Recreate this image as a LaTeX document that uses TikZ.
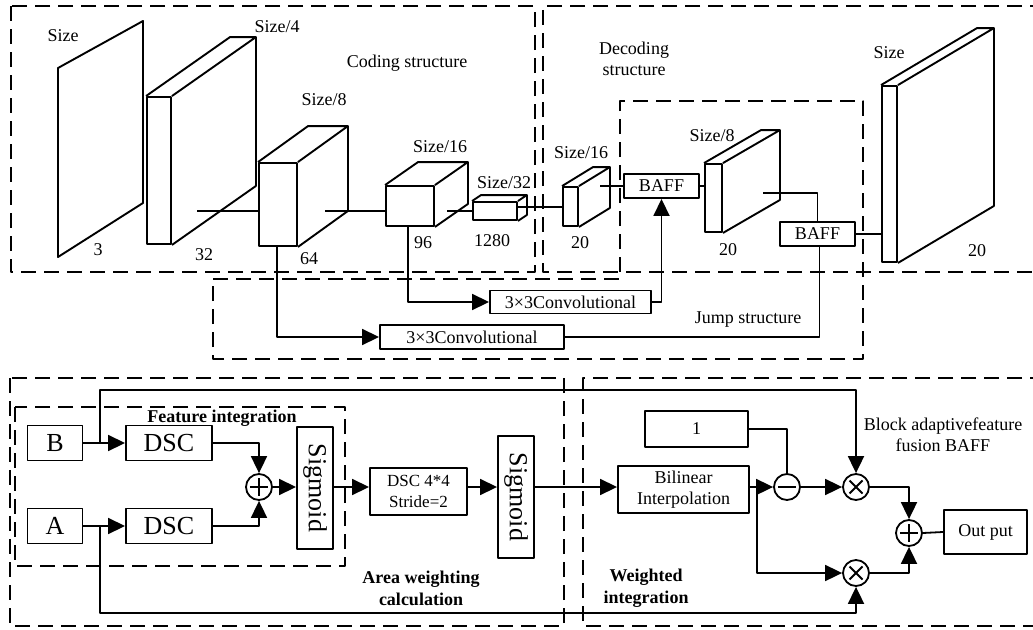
\documentclass[tikz,border=0pt]{standalone}
\usepackage{fontspec}
\setmainfont{Liberation Serif}
\usetikzlibrary{arrows.meta}
% depth faces of a feature-map block whose front face is node #1
\newcommand\slabdepth[3]{%
  \draw[face] (#1.north west) -- ++(#2,#3) -- ([shift={(#2,#3)}]#1.north east)
    -- ([shift={(#2,#3)}]#1.south east) -- (#1.south east)
    (#1.north east) -- ++(#2,#3);}
\begin{document}
\begin{tikzpicture}[x=1pt,y=-1pt,line width=1.8pt,line join=round,
  txt/.style={font=\fontsize{18}{21}\selectfont},
  box/.style={draw,line width=1.9pt,inner sep=0pt,align=center,txt},
  face/.style={draw,line width=1.9pt,inner sep=0pt},
  region/.style={draw,line width=1.9pt,dash pattern=on 15pt off 8pt},
  lab/.style={inner sep=0pt,align=center,txt},
  boldlab/.style={inner sep=0pt,align=center,font=\fontsize{18}{22}\bfseries\selectfont},
  bigtxt/.style={font=\fontsize{26}{28}\selectfont},
  arr/.style={-{Triangle[length=17pt,width=16pt]}},
  op/.style={draw,circle,line width=1.8pt,minimum size=26pt,inner sep=0pt},
  opplus/.style={op,path picture={\draw[line width=1.8pt]
      (path picture bounding box.center) ++(-9,0) -- ++(18,0)
      (path picture bounding box.center) ++(0,-9) -- ++(0,18);}},
  opminus/.style={op,path picture={\draw[line width=1.8pt]
      (path picture bounding box.center) ++(-9,0) -- ++(18,0);}},
  optimes/.style={op,path picture={\draw[line width=1.8pt]
      (path picture bounding box.center) ++(-6.5,-6.5) -- ++(13,13)
      (path picture bounding box.center) ++(-6.5,6.5) -- ++(13,-13);}},
]
\useasboundingbox (0,0) rectangle (1033,629);

% ---------------- encoder / decoder ----------------
\draw[region] (11,6) rectangle (535,272);
\draw[region] (1045,6) -- (543,6) -- (543,272) -- (1045,272);
\draw[region] (213,279) -- (620,279) -- (620,101) -- (863,101) -- (863,359) -- (213,359) -- cycle;

\node[lab] (tcode) at (407,63) {Coding structure};
\node[lab] (tdec) at (634,59) {Decoding\\structure};
\node[lab] (tjump) at (748,320) {Jump structure};

% input plane
\coordinate (s1a) at (58,68);
\coordinate (s1b) at (143,21);
\coordinate (s1c) at (143,203);
\coordinate (s1d) at (58,257);
\draw[face] (s1a) -- (s1b) -- (s1c) -- (s1d) -- cycle;
\node[lab] (l1) at (63,36) {Size};
\node[lab] (n1) at (98,250) {3};

% encoder blocks
\node[face,minimum width=24pt,minimum height=147pt] (s2) at (159,170.5) {};
\slabdepth{s2}{84}{-59}
\node[lab] (l2) at (277,27) {Size/4};
\node[lab] (n2) at (204,255) {32};

\node[face,minimum width=38pt,minimum height=83pt] (s3) at (278,204.5) {};
\slabdepth{s3}{50}{-36}
\node[lab] (l3) at (324,100) {Size/8};
\node[lab] (n3) at (309,259) {64};

\node[face,minimum width=48pt,minimum height=40pt] (s4) at (410,206) {};
\slabdepth{s4}{33}{-23}
\node[lab] (l4) at (440,147) {Size/16};
\node[lab] (n4) at (423,243) {96};

\node[face,minimum width=44pt,minimum height=18pt] (s5) at (495,211) {};
\slabdepth{s5}{9}{-6}
\node[lab] (l5) at (504,183) {Size/32};
\node[lab] (n5) at (492,241) {1280};

% decoder blocks
\node[face,minimum width=15pt,minimum height=39pt] (d1) at (570.5,206.5) {};
\slabdepth{d1}{31}{-19}
\node[lab] (l6) at (581,153) {Size/16};
\node[lab] (n6) at (580,243) {20};

\node[face,minimum width=17pt,minimum height=68pt] (d2) at (713.5,198) {};
\slabdepth{d2}{57}{-33}
\node[lab] (l7) at (712,136) {Size/8};
\node[lab] (n7) at (728,250) {20};

\node[face,minimum width=15pt,minimum height=176pt] (d3) at (889.5,174) {};
\slabdepth{d3}{96}{-57}
\node[lab] (l8) at (889,53) {Size};
\node[lab] (n8) at (977,251) {20};

\node[box,minimum width=75pt,minimum height=24pt] (b1) at (661.5,186) {BAFF};
\node[box,minimum width=75pt,minimum height=24pt] (b2) at (817.5,234) {BAFF};
\node[box,minimum width=161pt,minimum height=23pt] (c1) at (570.5,302) {3\texttimes3Convolutional};
\node[box,minimum width=184pt,minimum height=24pt] (c2) at (472,337) {3\texttimes3Convolutional};

% links between blocks
\coordinate (j2) at (197,211);
\coordinate (j3) at (325,211);
\coordinate (j4) at (447,211);
\coordinate (j5) at (517,207);
\coordinate (j6) at (600,186);
\coordinate (j7) at (763,193);
\draw (j2) -- (j2 -| s3.west);
\draw (j3) -- (j3 -| s4.west);
\draw (j4) -- (j4 -| s5.west);
\draw (j5) -- (j5 -| d1.west);
\draw (j6) -- (b1.west);
\draw (b1.east) -- (b1.east -| d2.west);
\draw (j7) -| (b2.north);
\draw (b2.east) -- (b2.east -| d3.west);

% skip connections
\draw[arr] ([xshift=-1pt]s3.south) |- (c2.west);
\draw[arr] ([xshift=-2pt]s4.south) |- (c1.west);
\draw[arr] (c1.east) -| (b1.south);
\draw (c2.east) -| ([xshift=2pt]b2.south);

% ---------------- BAFF module ----------------
\draw[region] (10,378) rectangle (564,626);
\draw[region] (1045,378) -- (583,378) -- (583,626) -- (1045,626);
\draw[region] (15,407) rectangle (345,566);

\node[boldlab] (tfeat) at (222,418) {Feature integration};
\node[boldlab] (tarea) at (421,588) {Area weighting\\calculation};
\node[boldlab] (twei) at (646,588) {Weighted\\integration};
\node[lab] (tbaff) at (943,435) {Block adaptivefeature\\fusion BAFF};

\node[box,bigtxt,minimum width=55pt,minimum height=35pt] (B) at (55,443) {B};
\node[box,bigtxt,minimum width=55pt,minimum height=35pt] (A) at (55,526) {A};
\node[box,bigtxt,minimum width=86pt,minimum height=35pt] (dscB) at (169,443) {DSC};
\node[box,bigtxt,minimum width=86pt,minimum height=35pt] (dscA) at (169,526) {DSC};
\node[opplus] (p1) at (259,487) {};
\node[box,minimum width=36pt,minimum height=122pt] (sg1) at (315,488) {};
\node[bigtxt,rotate=-90,inner sep=0pt] (sg1t) at (sg1) {Sigmoid};
\node[box,minimum width=97pt,minimum height=47pt,font=\fontsize{17}{21}\selectfont] (dsc44) at (418.5,491.5) {DSC 4*4\\Stride=2};
\node[box,minimum width=36pt,minimum height=122pt] (sg2) at (516,497) {};
\node[bigtxt,rotate=-90,inner sep=0pt] (sg2t) at (sg2) {Sigmoid};
\node[box,minimum width=103pt,minimum height=36pt] (one) at (696.5,429) {1};
\node[box,minimum width=131pt,minimum height=47pt] (bil) at (683.5,489.5) {Bilinear\\Interpolation};
\node[opminus] (m) at (787,487) {};
\node[optimes] (t1) at (856,487) {};
\node[optimes] (t2) at (856,573) {};
\node[opplus] (p2) at (909,533) {};
\node[box,minimum width=83pt,minimum height=44pt] (out) at (985.5,532) {Out put};

\coordinate (flow) at (0,487);
\coordinate (bj) at (100,443);
\coordinate (btop) at (100,390);
\coordinate (aj) at (100,526);
\coordinate (abot) at (100,613);
\coordinate (bilj) at (757,487);

\draw[arr] (B) -- (dscB);
\draw[arr] (A) -- (dscA);
\draw[arr] (dscB.east) -| (p1.north);
\draw[arr] (dscA.east) -| (p1.south);
\draw[arr] (p1.east) -- (p1.east -| sg1.west);
\draw[arr] (sg1.east |- flow) -- (dsc44.west |- flow);
\draw[arr] (dsc44.east |- flow) -- (sg2.west |- flow);
\draw[arr] (sg2.east |- flow) -- (bil.west |- flow);
\draw[arr] (bil.east |- flow) -- (m.west);
\draw (one.east) -| (m.north);
\draw[arr] (m.east) -- (t1.west);
\draw[arr] (bilj) |- (t2.west);
\draw[arr] (t1.east) -| (p2.north);
\draw[arr] (t2.east) -| (p2.south);
\draw (p2.east) -- (out.west);
\draw[arr] (bj) -- (btop) -| (t1.north);
\draw[arr] (aj) -- (abot) -| (t2.south);
\end{tikzpicture}
\end{document}
